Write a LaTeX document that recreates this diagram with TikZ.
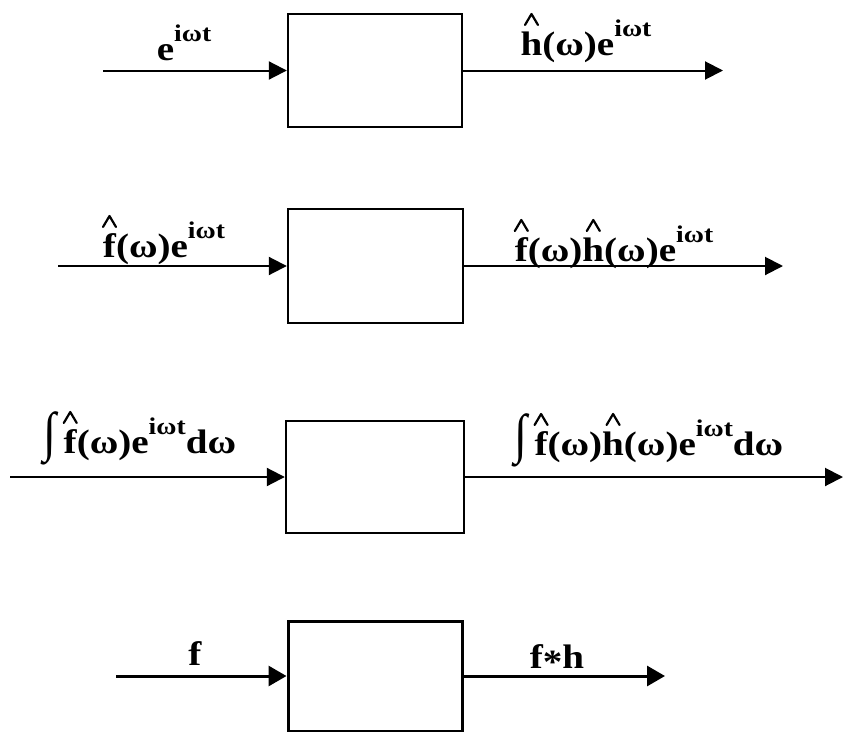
\documentclass[tikz,border=0pt]{standalone}
\usepackage{graphicx}
\usepackage{fontspec}
\setmainfont{Liberation Serif}[FakeStretch=1.15]
\usetikzlibrary{arrows.meta}
\newcommand\lblfont{\fontsize{34}{40}\selectfont\bfseries}
\newcommand\sups[1]{\raisebox{0.55em}{\fontsize{24}{28}\selectfont\bfseries #1}}
\newcommand\hatc[1]{\leavevmode\setbox0\hbox{#1}\rlap{\hbox to \wd0{\hss\tikz[baseline=0pt]\draw[line width=2.2pt,line cap=round,line join=round] (0pt,30pt) -- (6.5pt,41pt) -- (13pt,30pt);\hss}}\box0}
\newcommand\intg{\raisebox{3pt}{\scalebox{1.2}[1.6]{\fontsize{34}{40}\selectfont ∫}}\kern7pt}
\begin{document}
\begin{tikzpicture}[x=1pt,y=-1pt,
  blk/.style={draw,line width=2.4pt,inner sep=0pt},
  sig/.style={line width=2pt,-{Triangle[length=18pt,width=18pt]}},
  sigb/.style={line width=3pt,-{Triangle[length=18pt,width=20pt]}},
  lbl/.style={anchor=base,inner sep=0pt,font=\lblfont}]
\useasboundingbox (0,0) rectangle (843,731);
% boxes
\node[blk,minimum width=174pt,minimum height=113pt] (b1) at (375,70.5) {};
\node[blk,minimum width=175pt,minimum height=114pt] (b2) at (375.5,266) {};
\node[blk,minimum width=178pt,minimum height=112pt] (b3) at (375,477) {};
\node[blk,line width=3pt,minimum width=174pt,minimum height=110pt] (b4) at (375,676) {};
% free ends
\coordinate (i1) at (103,70.5);
\coordinate (o1) at (723,70.5);
\coordinate (i2) at (58,266);
\coordinate (o2) at (783,266);
\coordinate (i3) at (10,477);
\coordinate (o3) at (843,477);
\coordinate (i4) at (116,676);
\coordinate (o4) at (665,676);
% connectors
\draw[sig] (i1) -- (b1.west);
\draw[sig] (b1.east) -- (o1);
\draw[sig] (i2) -- (b2.west);
\draw[sig] (b2.east) -- (o2);
\draw[sig] (i3) -- (b3.west);
\draw[sig] (b3.east) -- (o3);
\draw[sigb] (i4) -- (b4.west);
\draw[sigb] (b4.east) -- (o4);
% labels
\node[lbl] (l1) at (184,60) {e\sups{iωt}};
\node[lbl] (r1) at (586,55) {\hatc{h}(ω)e\sups{iωt}};
\node[lbl] (l2) at (164,257) {\hatc{f}(ω)e\sups{iωt}};
\node[lbl] (r2) at (614,261) {\hatc{f}(ω)\hatc{h}(ω)e\sups{iωt}};
\node[lbl] (l3) at (140,453) {\intg\hatc{f}(ω)e\sups{iωt}dω};
\node[lbl] (r3) at (649,455) {\intg\hatc{f}(ω)\hatc{h}(ω)e\sups{iωt}dω};
\node[lbl] (l4) at (195,665) {f};
\node[lbl] (r4) at (557,668) {f\raisebox{-0.15em}{*}h};
\end{tikzpicture}
\end{document}
